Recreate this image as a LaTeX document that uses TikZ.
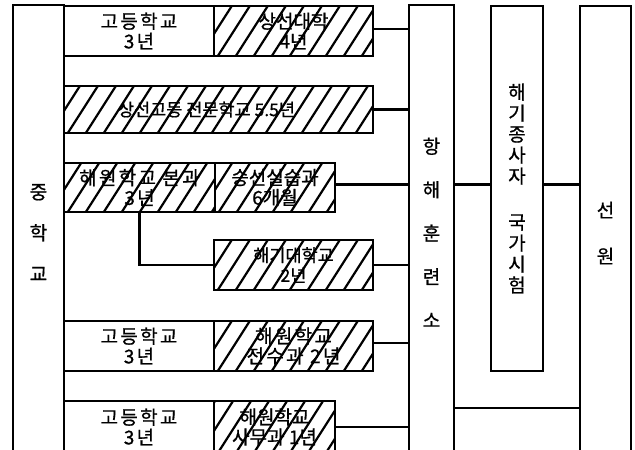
\documentclass[tikz,border=0pt]{standalone}
\usepackage{fontspec}
\setmainfont{Noto Sans CJK KR}[FakeBold=0.8]
\usetikzlibrary{calc}
\newcommand\ksp{\fontsize{19}{20}\selectfont\addfontfeatures{LetterSpace=12}}
\newcommand\knorm{\fontsize{19}{20}\selectfont}
\newcommand\ksmall{\fontsize{17.5}{20}\selectfont}
\begin{document}
\begin{tikzpicture}[x=1pt,y=-1pt,
  lw/.style={line width=2.2pt},
  box/.style={draw, lw, inner sep=0pt, align=center, font=\knorm},
  hatch/.style={path picture={\foreach \k in {-6,...,22}{\draw[line width=2.2pt] ($(path picture bounding box.south west)+(\k*18,6)$) -- ++(46,-72);}}},
  col/.style={draw, lw, inner sep=0pt, align=center},
  conn/.style={lw}
]
\useasboundingbox (0,0) rectangle (635,450);
\clip (0,0) rectangle (635,450);

% columns
\node[col, minimum width=51pt, minimum height=455pt, font=\fontsize{19}{41}\selectfont] (M) at (38.5,232.5) {중\\학\\교};
\node[col, minimum width=45pt, minimum height=455pt, font=\fontsize{19}{43.5}\selectfont] (H) at (431.5,232.5) {항\\해\\훈\\련\\소};
\node[col, minimum width=52pt, minimum height=365pt, font=\fontsize{19}{21}\selectfont] (E) at (517,188.5) {해\\기\\종\\사\\자\\[25pt]국\\가\\시\\험};
\node[col, minimum width=51pt, minimum height=454pt, font=\fontsize{19}{46}\selectfont] (S) at (605.5,233) {선\\원};

% row 1
\node[box, minimum width=150pt, minimum height=50pt, font=\ksp] (A1) at (139,31) {고등학교\\3년};
\node[box, hatch, minimum width=159pt, minimum height=50pt] (B1) at (293.5,31) {상선대학\\4년};
% row 2
\node[box, hatch, minimum width=309pt, minimum height=47pt, font=\ksmall] (B2) at (218.5,109.5) {상선고등 전문학교 5.5년\hspace*{24pt}};
% row 3
\node[box, hatch, minimum width=151pt, minimum height=49pt, font=\ksp] (A3) at (139.5,187.5) {해원학교 본과\\3년};
\node[box, hatch, minimum width=120pt, minimum height=49pt] (B3) at (275,187.5) {승선실습과\\6개월};
% row 3b
\node[box, hatch, minimum width=159pt, minimum height=50pt, font=\ksmall] (C) at (293.5,265) {해기대학교\\2년};
% row 4
\node[box, minimum width=150pt, minimum height=50pt, font=\ksp] (A4) at (139,346) {고등학교\\3년};
\node[box, hatch, minimum width=159pt, minimum height=50pt, font=\ksp] (B4) at (293.5,346) {해원학교\\전수과 2년};
% row 5
\node[box, minimum width=150pt, minimum height=52pt, font=\ksp] (A5) at (139,427) {고등학교\\3년};
\node[box, hatch, minimum width=121pt, minimum height=52pt] (B5) at (274.5,427) {해원학교\\사무과 1년};

% connectors
\draw[conn] ([yshift=2pt]B1.east) -- ([yshift=2pt]B1.east -| H.west);
\draw[conn] (B2.east) -- (B2.east -| H.west);
\draw[conn] ([yshift=3pt]B3.east) -- ([yshift=3pt]B3.east -| H.west);
\draw[conn] (A3.south) |- (C.west);
\draw[conn] (C.east) -- (C.east -| H.west);
\draw[conn] ([yshift=3pt]B4.east) -- ([yshift=3pt]B4.east -| H.west);
\draw[conn] (B5.east) -- (B5.east -| H.west);
\draw[conn] ([yshift=4pt]E.west) -- ([yshift=4pt]E.west -| H.east);
\draw[conn] ([yshift=4pt]E.east) -- ([yshift=4pt]E.east -| S.west);
\coordinate (low) at (0,408);
\draw[conn] (H.east |- low) -- (S.west |- low);
\end{tikzpicture}
\end{document}
